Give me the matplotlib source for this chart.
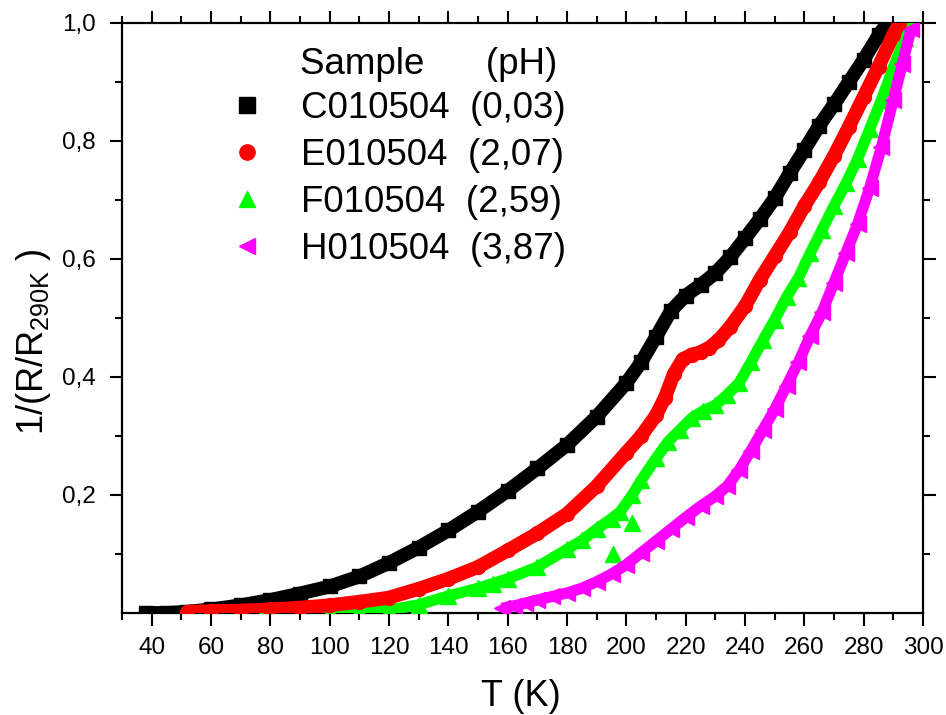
import matplotlib
matplotlib.use("Agg")
import matplotlib.pyplot as plt
from matplotlib.lines import Line2D
from matplotlib.ticker import MultipleLocator, FixedLocator, FuncFormatter

plt.rcParams['font.family'] = ['Liberation Sans', 'DejaVu Sans']
plt.rcParams['mathtext.fontset'] = 'custom'
plt.rcParams['mathtext.rm'] = 'Liberation Sans'
plt.rcParams['mathtext.it'] = 'Liberation Sans'

# ---- data ----
c_T = [38, 45, 52, 60, 70, 80, 90, 100, 110, 120, 130, 140, 150, 160, 170, 180, 190,
       200, 205, 210, 215, 220, 225, 230, 235, 240, 245, 250, 255, 260, 265, 270, 275,
       280, 285, 288]
c_y = [0.0, 0.0, 0.002, 0.006, 0.013, 0.022, 0.033, 0.045, 0.062, 0.085, 0.111, 0.140,
       0.172, 0.207, 0.245, 0.285, 0.333, 0.390, 0.425, 0.468, 0.512, 0.538, 0.556, 0.576,
       0.603, 0.635, 0.668, 0.703, 0.745, 0.785, 0.826, 0.862, 0.900, 0.938, 0.979, 1.0]

e_T = [52, 60, 70, 80, 90, 100, 110, 120, 130, 140, 150, 160, 170, 180, 190, 200, 205,
       210, 213, 216, 219, 222, 225, 228, 231, 235, 240, 245, 250, 255, 260, 265, 270,
       275, 280, 285, 290, 292]
e_y = [0.002, 0.003, 0.004, 0.006, 0.009, 0.013, 0.019, 0.026, 0.041, 0.058, 0.078,
       0.106, 0.135, 0.168, 0.215, 0.272, 0.300, 0.335, 0.365, 0.405, 0.430, 0.438,
       0.442, 0.450, 0.462, 0.485, 0.520, 0.565, 0.605, 0.645, 0.690, 0.730, 0.775,
       0.824, 0.875, 0.926, 0.980, 1.0]

f_T = [78, 90, 100, 110, 120, 130, 140, 150, 155, 160, 170, 180, 185, 190, 195,
       198, 202, 205, 210, 214, 218, 222, 226, 230, 234, 238, 242, 246, 250, 254, 258,
       262, 266, 270, 274, 278, 282, 286, 290, 294, 296]
f_y = [0.002, 0.002, 0.002, 0.003, 0.005, 0.014, 0.029, 0.042, 0.050, 0.058, 0.078,
       0.108, 0.123, 0.142, 0.160, 0.172, 0.200, 0.225, 0.262, 0.290, 0.310,
       0.330, 0.343, 0.352, 0.370, 0.390, 0.425, 0.462, 0.497, 0.535, 0.568, 0.610,
       0.650, 0.690, 0.728, 0.770, 0.820, 0.870, 0.925, 0.975, 1.0]
f_out_T = [195.5, 202]
f_out_y = [0.100, 0.152]

h_T = [158, 162, 166, 170, 175, 180, 185, 190, 195, 200, 205, 210, 215, 220, 225, 230,
       234, 238, 242, 246, 250, 254, 258, 262, 266, 270, 274, 278, 282, 286, 290, 293, 296]
h_y = [0.008, 0.012, 0.017, 0.022, 0.028, 0.034, 0.042, 0.053, 0.066, 0.082, 0.102,
       0.122, 0.142, 0.162, 0.181, 0.198, 0.215, 0.242, 0.275, 0.310, 0.345, 0.385,
       0.425, 0.470, 0.510, 0.560, 0.610, 0.660, 0.720, 0.790, 0.870, 0.930, 0.990]

labels = ["C010504  (0,03)", "E010504  (2,07)", "F010504  (2,59)", "H010504  (3,87)"]
x_ticks = [40, 60, 80, 100, 120, 140, 160, 180, 200, 220, 240, 260, 280, 300]
y_ticks = [0.2, 0.4, 0.6, 0.8, 1.0]

fig = plt.figure(figsize=(9.46, 7.15), dpi=100)
ax = fig.add_axes([122/946, 1-613/715, (923-122)/946, (613-23)/715])

def series(T, y, color, marker, z, lw, ms):
    ax.plot(T, y, '-', color=color, lw=lw, zorder=z, solid_capstyle='butt',
            solid_joinstyle='round')
    ax.plot(T, y, ls='none', marker=marker, color=color, ms=ms, mec=color, zorder=z)

series(c_T, c_y, '#000000', 's', 2, 10, 10)
series(f_T, f_y, '#00ff00', '^', 3, 8, 11)
ax.plot(f_out_T, f_out_y, ls='none', marker='^', color='#00ff00', ms=11, zorder=3)
series(h_T, h_y, '#ff00ff', '<', 4, 8, 11)
series(e_T, e_y, '#ff0000', 'o', 5, 10, 10)

ax.set_xlim(30, 300)
ax.set_ylim(0, 1.0)
ax.xaxis.set_major_locator(FixedLocator(x_ticks))
ax.xaxis.set_minor_locator(MultipleLocator(10))
ax.yaxis.set_major_locator(FixedLocator(y_ticks))
ax.yaxis.set_minor_locator(FixedLocator([0.1, 0.3, 0.5, 0.7, 0.9]))
ax.yaxis.set_major_formatter(FuncFormatter(lambda v, p: f"{v:.1f}".replace('.', ',')))

for s in ax.spines.values():
    s.set_linewidth(1.6)
ax.tick_params(which='both', direction='out', top=True, right=True, width=1.5,
               labelsize=17.5, labeltop=False, labelright=False)
ax.tick_params(which='major', length=9)
ax.tick_params(which='minor', length=5)
ax.tick_params(axis='x', which='major', pad=8)
ax.tick_params(axis='y', which='major', pad=10)

fig.text(521/946, 1-697/715, "T (K)", ha='center', va='center', fontsize=26)
fig.text(34/946, 1-342/715, r"1/(R/R$_{\mathregular{290K}}$ )", rotation=90,
         ha='center', va='center', fontsize=26)

handles = [
    Line2D([], [], ls='none', marker='s', color='#000000', ms=11),
    Line2D([], [], ls='none', marker='o', color='#ff0000', ms=11),
    Line2D([], [], ls='none', marker='^', color='#00ff00', ms=12),
    Line2D([], [], ls='none', marker='<', color='#ff00ff', ms=12),
]
leg = ax.legend(handles, labels, loc='upper left', bbox_to_anchor=(0.1336, 0.885),
                frameon=False, fontsize=26.5, borderpad=0, borderaxespad=0,
                handlelength=1.0, handletextpad=0.95, labelspacing=0.33)
ax.text((300-122)/801, (613-65)/590, "Sample      (pH)", transform=ax.transAxes,
        fontsize=26.5, ha='left', va='center')

fig.savefig("out.png", dpi=100)
